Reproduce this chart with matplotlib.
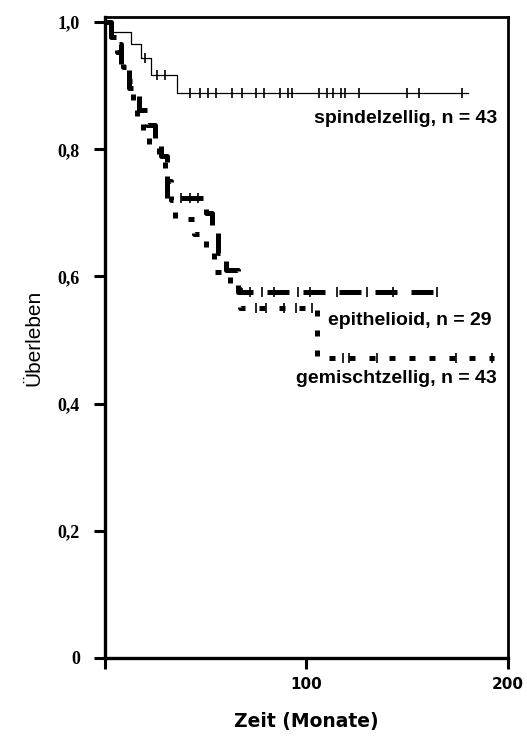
import matplotlib
matplotlib.use('Agg')
import matplotlib.pyplot as plt
import numpy as np

# Kaplan-Meier Daten
t_spindel = [0, 3, 13, 18, 23, 36, 180]
s_spindel = [1.0, 0.985, 0.965, 0.943, 0.917, 0.888, 0.888]
zens_spindel = [20, 26, 30, 42, 47, 51, 55, 63, 68, 75, 79, 87, 91, 93, 106, 110,
                113, 117, 119, 126, 150, 156, 177]

t_epi = [0, 3, 8, 12, 17, 21, 25, 28, 31, 50, 53, 56, 60, 66, 166]
s_epi = [1.0, 0.966, 0.931, 0.897, 0.862, 0.838, 0.81, 0.79, 0.724, 0.70, 0.668,
         0.637, 0.61, 0.575, 0.575]
zens_epi = [38, 42, 46, 72, 78, 84, 96, 102, 115, 130, 143, 165]

t_gem = [0, 3, 6, 9, 12, 14, 16, 19, 22, 27, 30, 33, 35, 44, 50, 54, 62, 67, 105, 193]
s_gem = [1.0, 0.977, 0.953, 0.93, 0.907, 0.877, 0.853, 0.83, 0.807, 0.78, 0.75,
         0.72, 0.69, 0.667, 0.637, 0.607, 0.58, 0.55, 0.472, 0.472]
zens_gem = [75, 80, 89, 95, 103, 118, 121, 135, 174, 192]

y_ticks = [0, 0.2, 0.4, 0.6, 0.8, 1.0]
y_labels = ["0", "0,2", "0,4", "0,6", "0,8", "1,0"]
x_ticks = [0, 100, 200]
x_labels = ["", "100", "200"]


def wert_bei(t, s, tz):
    idx = np.searchsorted(t, tz, side='right') - 1
    return np.array(s)[idx]


fig = plt.figure(figsize=(5.27, 7.45), dpi=100)
ax = fig.add_axes([0.199, 0.1168, 0.765, 0.8603])

# spindelzellig: dünne Linie
ax.step(t_spindel, s_spindel, where='post', color='black', lw=0.9)
ax.plot(zens_spindel, wert_bei(t_spindel, s_spindel, zens_spindel), ls='none',
        marker='|', ms=7, mew=1.2, color='black')

# epithelioid: dick gestrichelt
ax.step(t_epi, s_epi, where='post', color='black', lw=3.6,
        dashes=(4.4, 2.8), dash_capstyle='butt')
ax.plot(zens_epi, wert_bei(t_epi, s_epi, zens_epi), ls='none',
        marker='|', ms=7, mew=1.2, color='black')

# gemischtzellig: dick gepunktet
ax.step(t_gem, s_gem, where='post', color='black', lw=3.6,
        dashes=(1.2, 2.8), dash_capstyle='butt')
ax.plot(zens_gem, wert_bei(t_gem, s_gem, zens_gem), ls='none',
        marker='|', ms=7, mew=1.2, color='black')

# Beschriftungen der Kurven
ax.text(194.5, 0.849, "spindelzellig, n = 43", ha='right', va='center',
        fontsize=14, fontweight='bold', family='Liberation Sans')
ax.text(110.5, 0.53, "epithelioid, n = 29", ha='left', va='center',
        fontsize=14, fontweight='bold', family='Liberation Sans')
ax.text(194.5, 0.44, "gemischtzellig, n = 43", ha='right', va='center',
        fontsize=14, fontweight='bold', family='Liberation Sans')

ax.set_xlim(0, 200)
ax.set_ylim(0, 1.008)
ax.set_yticks(y_ticks)
ax.set_yticklabels(y_labels, fontsize=13, fontweight='bold', family='Liberation Serif')
ax.set_xticks(x_ticks)
ax.set_xticklabels(x_labels, fontsize=11, fontweight='bold')
ax.tick_params(axis='both', direction='out', length=8, width=2.2, pad=6)
ax.tick_params(axis='y', pad=10)

for side in ['left', 'bottom']:
    ax.spines[side].set_linewidth(2.4)
for side in ['top', 'right']:
    ax.spines[side].set_linewidth(2.0)

ax.set_ylabel("Überleben", fontsize=15, family='Liberation Sans', labelpad=10)
ax.set_xlabel("Zeit (Monate)", fontsize=13.5, fontweight='bold', labelpad=14)

fig.savefig("out.png", dpi=100)
